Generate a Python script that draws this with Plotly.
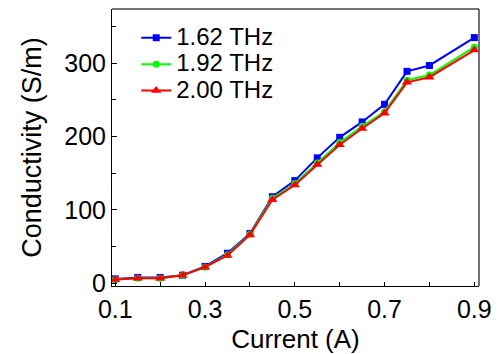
import plotly.graph_objects as go

current = [0.1, 0.15, 0.2, 0.25, 0.3, 0.35, 0.4, 0.45, 0.5, 0.55, 0.6, 0.65, 0.7, 0.75, 0.8, 0.9]
cond_162 = [6, 8, 8, 11, 23, 41, 68, 118, 140, 171, 199, 220, 244, 289, 297, 335]
cond_192 = [5, 7, 7, 11, 22, 39, 67, 116, 136, 164, 192, 214, 234, 277, 284, 322]
cond_200 = [5, 7, 7, 11, 22, 38, 66, 114, 134, 162, 189, 211, 232, 274, 281, 318]
series_names = ["1.62 THz", "1.92 THz", "2.00 THz"]
x_tick_vals = [0.1, 0.3, 0.5, 0.7, 0.9]
x_tick_text = ["0.1", "0.3", "0.5", "0.7", "0.9"]
y_tick_vals = [0, 100, 200, 300]

FONT = "Liberation Sans, Arial, sans-serif"

fig = go.Figure()
styles = [
    (cond_162, "#0000FF", "square", 7),
    (cond_192, "#00FF00", "circle", 7),
    (cond_200, "#FF0000", "triangle-up", 9),
]
for (vals, color, sym, size), name in zip(styles, series_names):
    fig.add_trace(go.Scatter(
        x=current, y=vals, name='<span style="font-size:24px">' + name + '</span>',
        mode="lines+markers",
        line=dict(color=color, width=2),
        marker=dict(symbol=sym, size=size, color=color),
    ))

# page body has an 8px margin: figure is sized/placed to compensate
fig.update_layout(
    width=491, height=346,
    margin=dict(l=104, r=20, t=1, b=68),
    paper_bgcolor="white", plot_bgcolor="white",
    font=dict(family=FONT, color="black"),
    showlegend=True,
    legend=dict(
        x=0.066, y=0.962, xanchor="left", yanchor="top",
        bgcolor="rgba(0,0,0,0)", font=dict(size=18, family=FONT),
        tracegroupgap=0, itemsizing="trace",
    ),
    xaxis=dict(
        range=[0.0927, 0.9104], tickvals=x_tick_vals, ticktext=x_tick_text,
        ticks="inside", ticklen=4, tickcolor="black", tickwidth=1,
        minor=dict(dtick=0.1, tick0=0.1, ticks="inside", ticklen=4, tickcolor="black"),
        showgrid=False, zeroline=False,
        showline=True, linecolor="black", linewidth=1, mirror=False,
        ticklabelstandoff=1,
        tickfont=dict(size=25), title=dict(text="Current (A)", font=dict(size=26), standoff=8),
    ),
    yaxis=dict(
        range=[-3.7, 374], tickvals=y_tick_vals,
        ticks="inside", ticklen=5, tickcolor="black", tickwidth=1,
        minor=dict(dtick=50, tick0=0, ticks="inside", ticklen=4, tickcolor="black"),
        showgrid=False, zeroline=False,
        showline=True, linecolor="black", linewidth=1, mirror=False,
        tickfont=dict(size=25), title=dict(text="Conductivity (S/m)", font=dict(size=27), standoff=14),
    ),
)
fig.add_shape(type="line", xref="paper", yref="paper", x0=0, x1=1, y0=1, y1=1,
              line=dict(color="#444444", width=1.5))
fig.add_shape(type="line", xref="paper", yref="paper", x0=1, x1=1, y0=0, y1=1,
              line=dict(color="#444444", width=1.5))

fig.write_html("out.html")
